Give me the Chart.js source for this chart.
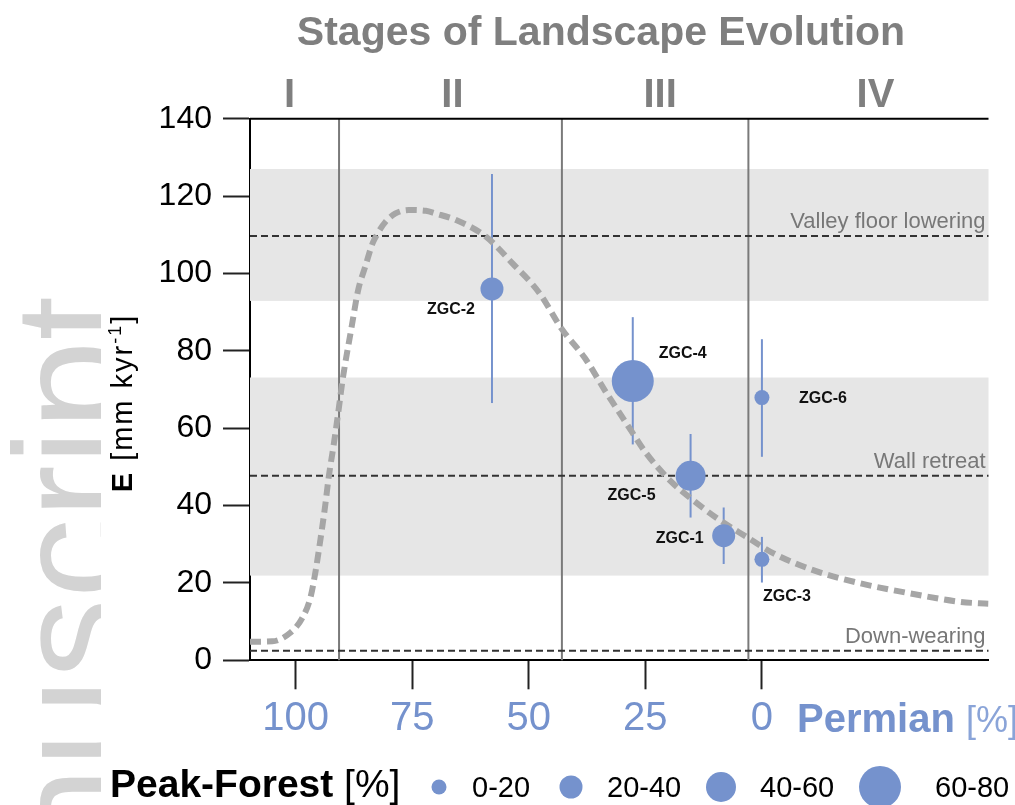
<!DOCTYPE html>
<html>
<head>
<meta charset="utf-8">
<title>Stages of Landscape Evolution</title>
<script src="https://cdn.jsdelivr.net/npm/chart.js@4.4.1/dist/chart.umd.min.js"></script>
<style>
    body { margin: 0; background: #fff; }
    canvas { display: block; }
</style>
</head>
<body>
<canvas id="chart" width="1015" height="805"></canvas>
<script>
// Samples (Permian share vs erosion rate)
const sampleNames = ['ZGC-2', 'ZGC-4', 'ZGC-6', 'ZGC-5', 'ZGC-1', 'ZGC-3'];
const permian = [57.9, 27.7, 0, 15.3, 8.2, 0];
const erosion = [96.0, 72.2, 67.9, 47.7, 32.2, 26.1];
const erosionHigh = [125.7, 88.7, 83.0, 58.5, 39.5, 31.9];
const erosionLow = [66.5, 55.8, 52.6, 36.9, 24.9, 20.1];
const peakForest = ['20-40', '60-80', '0-20', '40-60', '20-40', '0-20'];

// Conceptual curve
const curveX = [109.8, 105, 101.3, 98.6, 96.8, 95.7, 94.6, 93.7, 92.9, 91.8, 90.7, 90.0, 88.0, 86.6, 85.1, 83.5, 82.4,
    80.7, 78.6, 75.7, 72.1, 70.0, 65.6, 59.2, 53.5, 47.7, 42.9, 37.9, 33.6, 29.1, 24.8, 19.8, 14.8, 9.0, 3.3, -2.4,
    -11.0, -21.1, -31.8, -42.6, -48.6];
const curveY = [4.8, 4.9, 7.0, 10.9, 16.4, 23.3, 32.0, 39.7, 47.5, 56.1, 65.6, 72.0, 86.2, 95.7, 101.7, 107.8, 110.4,
    113.4, 115.5, 116.4, 116.2, 115.5, 113.8, 109.5, 102.6, 94.9, 85.6, 78.0, 69.6, 61.3, 53.5, 46.6, 41.4, 36.2, 31.9, 27.7,
    23.3, 19.9, 17.3, 15.1, 14.6];

// Stages, bands and reference levels
const stageNames = ['I', 'II', 'III', 'IV'];
const stageBounds = [90.7, 42.9, 2.9];
const bandLow = [21.9, 92.9];
const bandHigh = [73.1, 127.0];
const refNames = ['Valley floor lowering', 'Wall retreat', 'Down-wearing'];
const refLevels = [109.7, 47.7, 2.5];
const forestClasses = ['0-20', '20-40', '40-60', '60-80'];
const xTicks = [100, 75, 50, 25, 0];

// styles
const BLUE = '#7592cd';
const GREY = '#7f7f7f';
const FONT = "'Liberation Sans', Arial, sans-serif";
const classRadius = { '0-20': 7.5, '20-40': 11.5, '40-60': 15, '60-80': 21 };
const labelOffsets = [[-41, 21], [50, -27], [61, 1], [-59, 20], [-44, 3], [25, 37]];
const stageShift = [-5, 2, 5, 7];
const legendCircleX = [439, 571, 721, 880];
const legendTextX = [472, 607, 760, 935];

const curveData = curveX.map((x, i) => ({ x: x, y: curveY[i] }));
const sampleData = permian.map((x, i) => ({ x: x, y: erosion[i] }));
const sampleRadius = peakForest.map(c => classRadius[c]);

function richText(ctx, parts, x, y, align) {
    let total = 0;
    parts.forEach(p => { ctx.font = p.font; total += ctx.measureText(p.t).width; });
    let cx = align === 'center' ? x - total / 2 : x;
    ctx.textAlign = 'left';
    parts.forEach(p => {
        ctx.font = p.font;
        ctx.fillStyle = p.color || '#000';
        ctx.fillText(p.t, cx, y + (p.dy || 0));
        cx += ctx.measureText(p.t).width;
    });
}

// Hintergrund: Bänder, Stufen, Referenzlinien, Fehlerbalken
const backgroundPlugin = {
    id: 'background',
    beforeDatasetsDraw(chart) {
        const { ctx, chartArea: a, scales: { x, y } } = chart;
        ctx.save();
        ctx.fillStyle = '#e6e6e6';
        bandLow.forEach((lo, i) => {
            const top = y.getPixelForValue(bandHigh[i]);
            ctx.fillRect(a.left, top, a.right - a.left, y.getPixelForValue(lo) - top);
        });

        ctx.strokeStyle = '#7a7a7a';
        ctx.lineWidth = 2;
        stageBounds.forEach(v => {
            const px = x.getPixelForValue(v);
            ctx.beginPath();
            ctx.moveTo(px, a.top);
            ctx.lineTo(px, a.bottom);
            ctx.stroke();
        });

        ctx.strokeStyle = '#333';
        ctx.lineWidth = 2;
        ctx.setLineDash([7, 4]);
        refLevels.forEach(v => {
            const py = y.getPixelForValue(v);
            ctx.beginPath();
            ctx.moveTo(a.left, py);
            ctx.lineTo(a.right, py);
            ctx.stroke();
        });
        ctx.setLineDash([]);

        ctx.fillStyle = '#777';
        ctx.font = '22px ' + FONT;
        ctx.textAlign = 'right';
        ctx.textBaseline = 'alphabetic';
        refNames.forEach((name, i) => {
            ctx.fillText(name, a.right - 3, y.getPixelForValue(refLevels[i]) - 8);
        });

        ctx.strokeStyle = BLUE;
        ctx.lineWidth = 2;
        permian.forEach((v, i) => {
            const px = x.getPixelForValue(v);
            ctx.beginPath();
            ctx.moveTo(px, y.getPixelForValue(erosionHigh[i]));
            ctx.lineTo(px, y.getPixelForValue(erosionLow[i]));
            ctx.stroke();
        });
        ctx.restore();
    },
    afterDatasetsDraw(chart) {
        const { ctx, scales: { x, y } } = chart;
        ctx.save();
        ctx.fillStyle = '#111';
        ctx.font = 'bold 16px ' + FONT;
        ctx.textAlign = 'center';
        ctx.textBaseline = 'middle';
        sampleNames.forEach((name, i) => {
            ctx.fillText(name, x.getPixelForValue(permian[i]) + labelOffsets[i][0],
                y.getPixelForValue(erosion[i]) + labelOffsets[i][1]);
        });
        ctx.restore();
    },
    afterDraw(chart) {
        const { ctx, chartArea: a, scales: { x } } = chart;
        ctx.save();

        // Rahmen oben
        ctx.strokeStyle = '#000';
        ctx.lineWidth = 2;
        ctx.beginPath();
        ctx.moveTo(a.left, a.top);
        ctx.lineTo(a.right, a.top);
        ctx.stroke();

        // Titel + Stufen
        ctx.fillStyle = GREY;
        ctx.textBaseline = 'alphabetic';
        ctx.textAlign = 'center';
        ctx.font = 'bold 41px ' + FONT;
        ctx.fillText('Stages of Landscape Evolution', 601, 45);
        const edges = [x.max].concat(stageBounds, [x.min]);
        ctx.font = 'bold 40px ' + FONT;
        stageNames.forEach((s, i) => {
            const cx = (x.getPixelForValue(edges[i]) + x.getPixelForValue(edges[i + 1])) / 2;
            ctx.fillText(s, cx + stageShift[i], 107);
        });

        // Wasserzeichen
        ctx.save();
        ctx.beginPath();
        ctx.rect(0, 0, 101, 805);
        ctx.clip();
        ctx.translate(126, 296);
        ctx.rotate(-Math.PI / 2);
        ctx.fillStyle = '#d3d3d3';
        ctx.font = '160px ' + FONT;
        ctx.textAlign = 'right';
        ctx.fillText('manuscript', 0, 0);
        ctx.restore();

        // y-Achsentitel
        ctx.save();
        ctx.translate(132, 403);
        ctx.rotate(-Math.PI / 2);
        ctx.letterSpacing = '2px';
        richText(ctx, [
            { t: 'E', font: 'bold 29px ' + FONT },
            { t: ' [mm kyr', font: '29px ' + FONT },
            { t: '-1', font: '18px ' + FONT, dy: -11 },
            { t: ']', font: '29px ' + FONT }
        ], 0, 0, 'center');
        ctx.restore();

        // x-Achsentitel
        richText(ctx, [
            { t: 'Permian ', font: 'bold 40px ' + FONT, color: BLUE },
            { t: '[%]', font: '36px ' + FONT, color: '#8aa4d8' }
        ], 797, 732, 'left');

        // Legende
        richText(ctx, [
            { t: 'Peak-Forest', font: 'bold 39px ' + FONT },
            { t: ' [%]', font: '39px ' + FONT }
        ], 110, 797, 'left');
        ctx.fillStyle = BLUE;
        forestClasses.forEach((c, i) => {
            ctx.beginPath();
            ctx.arc(legendCircleX[i], 787, classRadius[c], 0, Math.PI * 2);
            ctx.fill();
        });
        ctx.fillStyle = '#000';
        ctx.font = '29px ' + FONT;
        ctx.textAlign = 'left';
        forestClasses.forEach((c, i) => ctx.fillText(c, legendTextX[i], 797));
        ctx.restore();
    }
};

const ctx = document.getElementById('chart').getContext('2d');
const chart = new Chart(ctx, {
    data: {
        datasets: [{
            type: 'scatter',
            data: sampleData,
            backgroundColor: BLUE,
            borderWidth: 0,
            pointRadius: sampleRadius,
            pointHoverRadius: sampleRadius,
            order: 0
        }, {
            type: 'line',
            data: curveData,
            borderColor: '#a6a6a6',
            borderWidth: 6,
            borderDash: [11, 6],
            pointRadius: 0,
            cubicInterpolationMode: 'monotone',
            fill: false,
            order: 1
        }]
    },
    options: {
        responsive: false,
        animation: false,
        layout: { padding: { left: 0, right: 26.5, top: 118.7, bottom: 64.7 } },
        plugins: { legend: { display: false }, tooltip: { enabled: false } },
        scales: {
            x: {
                type: 'linear',
                reverse: true,
                min: -48.6,
                max: 109.8,
                afterBuildTicks: s => { s.ticks = xTicks.map(v => ({ value: v })); },
                afterFit: s => { s.height = 80; },
                border: { display: true, color: '#000', width: 2 },
                grid: { drawOnChartArea: false, tickLength: 29, tickColor: '#222', tickWidth: 2 },
                ticks: { color: BLUE, font: { family: FONT, size: 40 }, padding: 6, maxRotation: 0 }
            },
            y: {
                min: 0,
                max: 140,
                afterFit: s => { s.width = 250; },
                border: { display: true, color: '#000', width: 2 },
                grid: { drawOnChartArea: false, tickLength: 27, tickColor: '#222', tickWidth: 2 },
                ticks: { stepSize: 20, color: '#000', font: { family: FONT, size: 32 }, padding: 11 }
            }
        }
    },
    plugins: [backgroundPlugin]
});
</script>
</body>
</html>
